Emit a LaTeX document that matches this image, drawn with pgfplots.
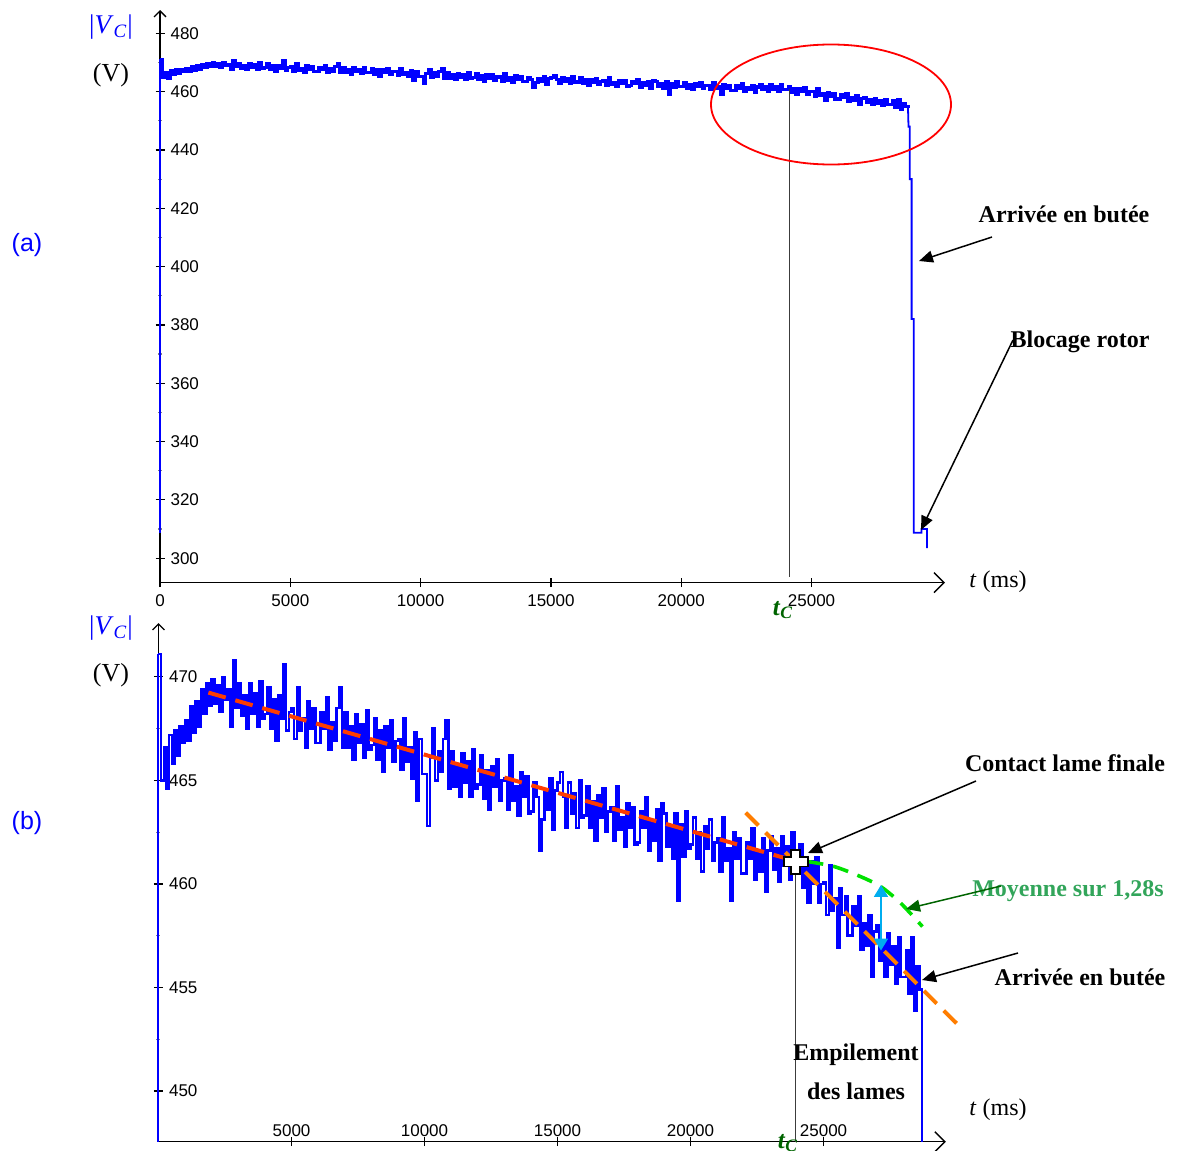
\documentclass[border=0pt]{standalone}
\usepackage{pgfplots}
\pgfplotsset{compat=1.18}
\usepackage{pgfplotstable}
\usetikzlibrary{arrows.meta}
\usepackage{fontspec}
\setmainfont{Liberation Serif}
\setsansfont{Liberation Sans}
\definecolor{vblue}{RGB}{0,0,255}
\definecolor{tcgreen}{RGB}{0,100,0}
\definecolor{moygreen}{RGB}{50,165,90}
\definecolor{redor}{RGB}{255,60,0}
\definecolor{orng}{RGB}{255,125,0}
\definecolor{lgreen}{RGB}{0,225,0}
\definecolor{tcline}{RGB}{60,60,60}

% |V_C| samples, one every 100 ms from t = 0 to t = 28700 ms
\pgfplotstableread{
v
471.1
465.0
466.6
464.6
467.2
465.8
467.4
466.2
467.6
466.8
467.9
466.9
468.6
467.3
468.8
467.6
469.4
468.2
469.7
468.6
469.9
468.7
469.6
468.3
470.0
468.9
469.4
467.6
470.8
468.5
469.7
468.1
469.1
467.5
469.7
468.2
469.2
467.6
469.8
468.0
468.2
469.5
467.5
468.9
466.9
469.1
468.0
470.6
467.4
468.3
468.5
467.0
469.5
467.4
468.0
466.6
468.8
467.5
468.5
466.8
466.8
468.3
467.5
469.0
466.5
467.8
466.9
468.5
469.5
466.6
468.3
466.6
467.6
466.0
468.2
466.8
467.7
466.1
468.4
466.5
466.7
468.0
466.0
467.4
465.4
467.6
466.6
467.9
465.9
466.9
467.0
465.5
468.0
465.9
466.6
465.1
467.3
464.0
467.0
465.3
465.3
462.8
466.1
467.5
465.0
466.4
465.4
467.0
467.9
464.6
466.4
464.7
465.7
464.2
466.3
464.9
465.9
464.2
466.5
464.6
464.8
466.2
464.1
465.5
463.6
465.7
464.7
466.0
464.0
465.0
465.1
463.6
466.2
464.0
464.7
463.3
465.4
464.2
465.2
463.4
463.5
464.9
464.2
461.6
463.1
464.5
463.6
465.1
462.6
464.5
464.9
465.4
464.2
462.7
464.9
463.4
464.4
462.7
465.0
463.2
463.3
464.7
462.7
464.0
462.1
464.3
463.2
464.6
462.5
463.5
463.7
462.1
464.7
462.6
463.2
461.8
463.9
462.7
463.7
461.9
462.0
463.5
462.7
464.2
461.6
463.0
462.1
463.6
461.1
463.9
463.4
461.8
462.8
461.2
463.4
459.2
462.9
461.3
463.5
461.7
461.9
463.2
461.2
462.5
460.6
462.8
461.7
463.1
461.1
462.0
462.2
460.6
463.2
461.1
461.7
459.2
462.5
461.2
462.2
460.5
460.5
462.0
461.2
462.7
460.2
461.5
460.6
462.2
459.6
461.6
462.3
460.7
461.7
460.1
462.3
460.9
461.8
460.2
462.5
460.6
460.7
461.9
459.8
461.1
459.1
461.1
460.0
461.3
459.1
460.0
460.1
458.5
460.9
458.7
459.3
456.9
459.8
458.5
459.4
457.5
457.5
458.9
458.0
459.4
456.8
458.1
457.0
458.5
455.5
457.7
458.0
456.3
457.2
455.5
457.6
456.1
457.0
455.2
457.4
455.5
455.5
456.8
454.7
457.4
453.9
456.0
454.9
454.4
}\vdata

\pgfplotsset{myax/.style={
  scale only axis, axis lines=left, clip=false,
  every outer x axis line/.append style={line width=0.7pt,-{Straight Barb[length=5pt,width=10pt]}},
  every outer y axis line/.append style={line width=0.7pt,-{Straight Barb[length=3pt,width=6pt]}},
  tick align=center, major tick length=4.5pt, minor tick length=2pt,
  every tick/.style={black, line width=0.6pt},
  minor y tick num=1,
  every minor tick/.style={gray, line width=0.6pt},
  scaled x ticks=false, scaled y ticks=false,
  ticklabel style={font=\sffamily\fontsize{8.5}{9}\selectfont},
  yticklabel style={anchor=west, xshift=4pt},
}}

\begin{document}
\begin{tikzpicture}[x=0.5pt,y=-0.5pt]
\path[use as bounding box] (0,0) rectangle (1179,1151);

% ---------------- panel (a)
\begin{axis}[myax, at={(80pt,-291.35pt)}, anchor=south west,
  width=392.5pt, height=286.35pt,
  xmin=0, xmax=30120, ymin=291.6, ymax=488,
  xtick={0,5000,10000,15000,20000,25000},
  xticklabels={0,5000,10000,15000,20000,25000},
  ytick={300,320,340,360,380,400,420,440,460,480},
  yticklabels={300,320,340,360,380,400,420,440,460,480}]
\addplot[vblue, line width=1pt] coordinates {(0,308.7)(0,471.1)};
\addplot[vblue, line width=1.6pt, const plot] table[x expr=\coordindex*100, y=v] {\vdata};
\addplot[vblue, line width=0.9pt] coordinates {(28700,454.4)(28720,448)(28770,448)(28770,430)(28840,430)(28840,382)(28920,382)(28920,308.7)(29220,308.7)(29220,310)(29430,310)(29430,303.5)};
\draw[tcline, line width=0.7pt] (axis cs:24155,460.9) -- (axis cs:24155,293.4);
\end{axis}

% ---------------- panel (b)
\begin{axis}[myax, at={(79.25pt,-570.85pt)}, anchor=south west,
  width=393.7pt, height=259.35pt,
  xmin=0, xmax=29600, ymin=447.55, ymax=472.6,
  xtick={5000,10000,15000,20000,25000},
  xticklabels={5000,10000,15000,20000,25000},
  xticklabel style={anchor=south, yshift=1pt},
  ytick={450,455,460,465,470},
  yticklabels={450,455,460,465,470}]
\addplot[vblue, line width=1pt] coordinates {(0,447.55)(0,471.1)};
\addplot[vblue, line width=1.3pt, const plot] table[x expr=\coordindex*100, y=v] {\vdata};
\addplot[vblue, line width=0.8pt] coordinates {(28700,454.4)(28700,447.55)};
\draw[tcline, line width=0.7pt] (axis cs:23955,461.06) -- (axis cs:23955,447.55);
\addplot[redor, line width=2pt, dash pattern=on 9pt off 5pt] coordinates {(1876,469.24)(23950,461.1)};
\addplot[orng, line width=2pt, dash pattern=on 9pt off 5pt] coordinates {(22075,463.44)(30222,452.98)};
\addplot[lgreen, line width=1.8pt, dash pattern=on 8pt off 5pt, smooth] coordinates {(24395,461.08)(25395,460.84)(26398,460.35)(27150,459.87)(27902,459.07)(28718,457.94)};
\draw[cyan, line width=0.9pt, {Triangle[length=6pt,width=7pt]}-{Triangle[length=6pt,width=7pt]}] (axis cs:27160,459.95) -- (axis cs:27160,456.78);
\addplot[only marks, mark=+, mark size=6.5pt, mark options={black, line width=5.5pt}] coordinates {(23955,461.06)};
\addplot[only marks, mark=+, mark size=5.6pt, mark options={white, line width=3.7pt}] coordinates {(23955,461.06)};
\end{axis}

% ---------------- annotations (a)
\node[vblue, font=\fontsize{13.5}{15}\selectfont] at (111,27) {|\textit{V}\textsubscript{\textit{C}}|};
\node[font=\fontsize{13}{15}\selectfont] at (111,75) {(V)};
\node[vblue, font=\sffamily\fontsize{12.5}{14}\selectfont] at (27,245) {(a)};
\node[font=\fontsize{12}{14}\selectfont] at (998,582) {\textit{t} (ms)};
\node[font=\bfseries\fontsize{12}{14}\selectfont] at (1064,214) {Arrivée en butée};
\node[font=\bfseries\fontsize{12}{14}\selectfont] at (1080,342) {Blocage rotor};
\node[tcgreen, font=\bfseries\fontsize{12.5}{14}\selectfont] at (783,610) {\textit{t}\textsubscript{\textit{C}}};
\draw[red, line width=0.9pt] (831,104.5) ellipse [x radius=120, y radius=60];
\draw[line width=0.75pt, -{Triangle[length=7pt,width=6pt]}] (992,237) -- (919,261);
\draw[line width=0.75pt, -{Triangle[length=7pt,width=6pt]}] (1013,340) -- (921,530);

% ---------------- annotations (b)
\node[vblue, font=\fontsize{13.5}{15}\selectfont] at (111,628) {|\textit{V}\textsubscript{\textit{C}}|};
\node[font=\fontsize{13}{15}\selectfont] at (111,675) {(V)};
\node[vblue, font=\sffamily\fontsize{12.5}{14}\selectfont] at (27,823) {(b)};
\node[font=\fontsize{12}{14}\selectfont] at (998,1110) {\textit{t} (ms)};
\node[font=\bfseries\fontsize{12}{14}\selectfont] at (1065,763) {Contact lame finale};
\node[moygreen, font=\bfseries\fontsize{12}{14}\selectfont] at (1068,891) {Moyenne sur 1,28s};
\node[font=\bfseries\fontsize{12}{14}\selectfont] at (1080,977) {Arrivée en butée};
\node[font=\bfseries\fontsize{12}{14}\selectfont] at (856,1055) {Empilement};
\node[font=\bfseries\fontsize{12}{14}\selectfont] at (856,1091) {des lames};
\node[tcgreen, font=\bfseries\fontsize{12.5}{14}\selectfont] at (788,1143) {\textit{t}\textsubscript{\textit{C}}};
\draw[line width=0.75pt, -{Triangle[length=7pt,width=6pt]}] (976,781) -- (808,853);
\draw[tcgreen, line width=0.75pt, -{Triangle[length=7pt,width=6pt]}] (1001,886) -- (906,909);
\draw[line width=0.75pt, -{Triangle[length=7pt,width=6pt]}] (1018,953) -- (922,980);
\end{tikzpicture}
\end{document}
